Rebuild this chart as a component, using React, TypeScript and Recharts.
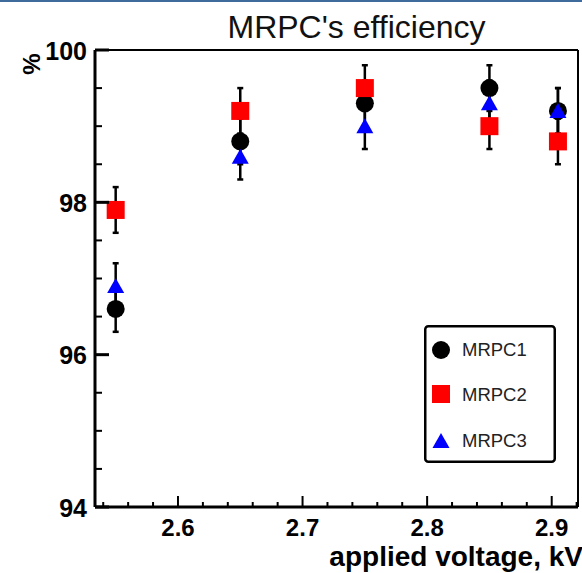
import * as React from "react";
import { ScatterChart, Scatter, XAxis, YAxis, ErrorBar, ReferenceLine, Legend } from "recharts";

// ─── Data ────────────────────────────────────────────────────────────────────
const voltage = [2.55, 2.65, 2.75, 2.85, 2.905];
const mrpc1 = [96.6, 98.8, 99.3, 99.5, 99.2];
const mrpc2 = [97.9, 99.2, 99.5, 99.0, 98.8];
const mrpc3 = [96.9, 98.6, 99.0, 99.3, 99.2];
const errors = [0.3, 0.3, 0.3, 0.3, 0.3];

const xMajorTicks = [2.6, 2.7, 2.8, 2.9];
const xMinorTicks = [2.54, 2.56, 2.58, 2.62, 2.64, 2.66, 2.68, 2.72, 2.74, 2.76, 2.78, 2.82, 2.84, 2.86, 2.88, 2.92];
const yMajorTicks = [94, 96, 98, 100];
const yMinorTicks = [94.5, 95, 95.5, 96.5, 97, 97.5, 98.5, 99, 99.5];

const xDomain: [number, number] = [2.5334, 2.9211];
const yDomain: [number, number] = [94, 100];

const seriesNames = ["MRPC1", "MRPC2", "MRPC3"];

const FONT = "'Liberation Sans', Arial, Helvetica, sans-serif";

const toPoints = (vals: number[]) => voltage.map((v, i) => ({ x: v, y: vals[i], err: errors[i] }));

// ─── Markers ─────────────────────────────────────────────────────────────────
const Dot = ({ cx, cy }: any) => <circle cx={cx} cy={cy} r={9} fill="#000" />;
const Square = ({ cx, cy }: any) => <rect x={cx - 9} y={cy - 9} width={18} height={18} fill="#ff0000" />;
const Tri = ({ cx, cy }: any) => (
  <polygon points={`${cx},${cy - 8} ${cx + 8.5},${cy + 7} ${cx - 8.5},${cy + 7}`} fill="#0000ff" />
);

// ─── Ticks (drawn inside the frame, ROOT style) ──────────────────────────────
const isMajor = (list: number[], v: number) => list.some((t) => Math.abs(t - v) < 1e-6);

const XTick = ({ x, y, payload }: any) => {
  const major = isMajor(xMajorTicks, payload.value);
  return (
    <g>
      <line x1={x} x2={x} y1={y} y2={y - (major ? 11 : 5)} stroke="#000" strokeWidth={2} />
      {major && (
        <text x={x} y={y + 29} textAnchor="middle" fontFamily={FONT} fontWeight="bold" fontSize={24} fill="#000">
          {payload.value.toFixed(1)}
        </text>
      )}
    </g>
  );
};

const YTick = ({ x, y, payload }: any) => {
  const major = isMajor(yMajorTicks, payload.value);
  return (
    <g>
      <line x1={x} x2={x + (major ? 14 : 7)} y1={y} y2={y} stroke="#000" strokeWidth={major ? 3 : 2} />
      {major && (
        <text x={x - 8} y={y + 9.5} textAnchor="end" fontFamily={FONT} fontWeight="bold" fontSize={25} fill="#000">
          {payload.value}
        </text>
      )}
    </g>
  );
};

// ─── Legend box ──────────────────────────────────────────────────────────────
function LegendBox() {
  const markers = [
    <circle cx={17} cy={25} r={9} fill="#000" />,
    <rect x={8} y={60} width={18} height={18} fill="#ff0000" />,
    <polygon points="17,108 25.5,123 8.5,123" fill="#0000ff" />,
  ];
  const textY = [31, 76, 122];
  return (
    <svg width={132} height={138}>
      <rect x={1.25} y={1.25} width={129.5} height={135.5} rx={3} fill="#fff" stroke="#000" strokeWidth={2.5} />
      {seriesNames.map((name, i) => (
        <g key={name}>
          {markers[i]}
          <text x={38} y={textY[i]} fontFamily={FONT} fontSize={18.5} fill="#222">
            {name}
          </text>
        </g>
      ))}
    </svg>
  );
}

export default function App() {
  const errProps = { dataKey: "err", direction: "y" as const, width: 3, stroke: "#000", strokeWidth: 2.5, isAnimationActive: false };
  return (
    <div style={{ position: "absolute", left: 0, top: 0, width: 582, height: 573, background: "#fff" }}>
      <ScatterChart width={582} height={573} margin={{ top: 50, right: 4, bottom: 26, left: 35 }}>
        <rect x={0} y={0} width={582} height={2} fill="#3f6b9c" />
        <text x={356.5} y={38} textAnchor="middle" fontFamily={FONT} fontSize={32} fill="#111">
          MRPC's efficiency
        </text>
        <text
          x={31}
          y={64}
          transform="rotate(-90 31 64)"
          textAnchor="middle"
          dominantBaseline="central"
          fontFamily={FONT}
          fontWeight="bold"
          fontSize={24}
          fill="#000"
        >
          %
        </text>
        <text x={583} y={566} textAnchor="end" fontFamily={FONT} fontWeight="bold" fontSize={28} fill="#000">
          applied voltage, kV
        </text>
        <XAxis
          type="number"
          dataKey="x"
          domain={xDomain}
          allowDataOverflow
          ticks={[...xMajorTicks, ...xMinorTicks].sort((a, b) => a - b)}
          interval={0}
          tick={<XTick />}
          tickLine={false}
          tickSize={0}
          tickMargin={0}
          height={40}
          axisLine={{ stroke: "#000", strokeWidth: 3 }}
        />
        <YAxis
          type="number"
          dataKey="y"
          domain={yDomain}
          allowDataOverflow
          ticks={[...yMajorTicks, ...yMinorTicks].sort((a, b) => a - b)}
          interval={0}
          tick={<YTick />}
          tickLine={false}
          tickSize={0}
          tickMargin={0}
          width={60}
          axisLine={{ stroke: "#000", strokeWidth: 3 }}
        />
        <ReferenceLine y={yDomain[1]} stroke="#000" strokeWidth={2} />
        <ReferenceLine x={xDomain[1]} stroke="#000" strokeWidth={2} />
        <Scatter name={seriesNames[0]} data={toPoints(mrpc1)} shape={<Dot />} isAnimationActive={false}>
          <ErrorBar {...errProps} />
        </Scatter>
        <Scatter name={seriesNames[1]} data={toPoints(mrpc2)} shape={<Square />} isAnimationActive={false}>
          <ErrorBar {...errProps} />
        </Scatter>
        <Scatter name={seriesNames[2]} data={toPoints(mrpc3)} shape={<Tri />} isAnimationActive={false}>
          <ErrorBar {...errProps} />
        </Scatter>
        <Legend
          layout="horizontal"
          verticalAlign="middle"
          align="center"
          content={() => <LegendBox />}
          wrapperStyle={{ position: "absolute", left: 424, top: 325, width: 132, height: 138 }}
        />
      </ScatterChart>
    </div>
  );
}
